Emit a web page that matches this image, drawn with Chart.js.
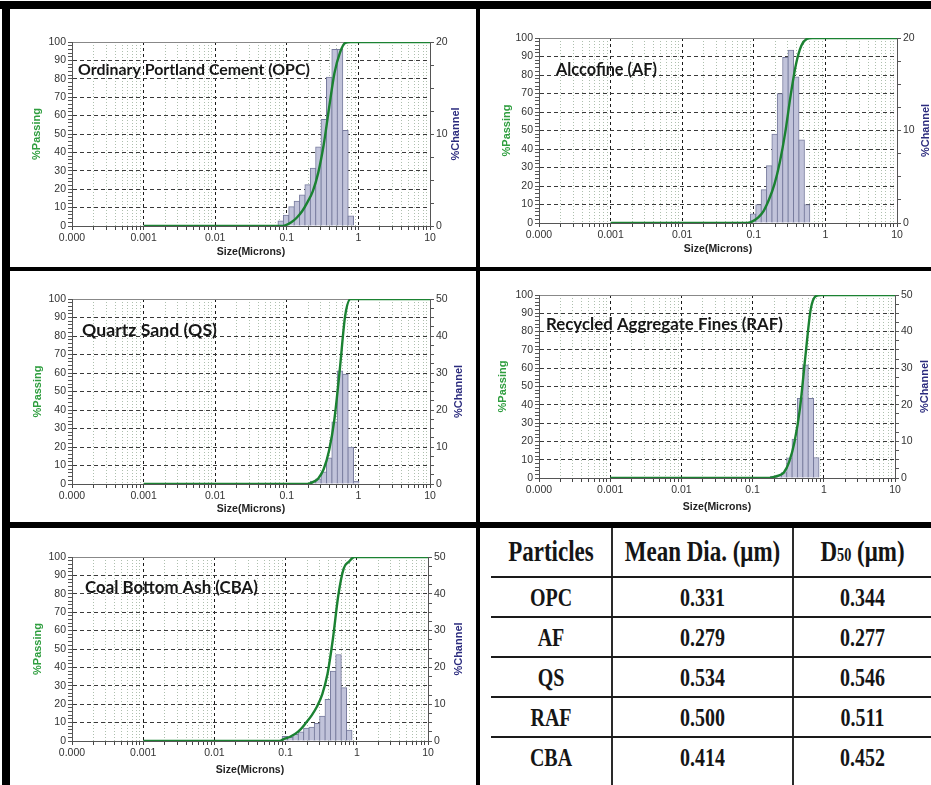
<!DOCTYPE html>
<html>
<head>
<meta charset="utf-8">
<script src="https://cdn.jsdelivr.net/npm/chart.js"></script>
<style>
html,body{margin:0;padding:0;background:#fff;}
body{width:931px;height:785px;position:relative;overflow:hidden;}
.rule{position:absolute;background:#000;}
#tbl{position:absolute;left:491px;top:528px;width:440px;height:257px;overflow:hidden;}
#tbl table{border-collapse:collapse;table-layout:fixed;width:440px;font-family:"Liberation Serif","Times New Roman",serif;font-weight:bold;color:#151515;}
#tbl th,#tbl td{text-align:center;padding:0;border-bottom:2px solid #1a1a1a;overflow:hidden;}
#tbl th+th,#tbl td+td{border-left:2px solid #2a2a2a;}
#tbl th{height:48px;font-size:23px;}
#tbl td{height:38px;font-size:20px;}
#tbl tr:last-child td{border-bottom:none;height:47px;vertical-align:top;padding-top:8px;}
.s{display:inline-block;transform:scaleY(1.3);}
.sub{font-size:0.62em;}
</style>
</head>
<body>
<div class="rule" style="left:0;top:1px;width:931px;height:8px"></div>
<div class="rule" style="left:2px;top:1px;width:8px;height:784px"></div>
<div class="rule" style="left:476px;top:1px;width:4px;height:784px"></div>
<div class="rule" style="left:2px;top:267px;width:929px;height:4px"></div>
<div class="rule" style="left:2px;top:522px;width:929px;height:6px"></div>
<div id="tbl"><table id="t"></table></div>
<script>
// ---------------- DATA ----------------
const xTickValues = [0.0001, 0.001, 0.01, 0.1, 1, 10];
const xTickLabels = ['0.000', '0.001', '0.01', '0.1', '1', '10'];
const passingTicks = [0, 10, 20, 30, 40, 50, 60, 70, 80, 90, 100];
const channelTicks20 = [0, 10, 20];
const channelTicks50 = [0, 10, 20, 30, 40, 50];

// channel (bin) centre sizes, microns
const channelSizes = [0.0750, 0.0892, 0.1061, 0.1261, 0.1499, 0.1783, 0.2120, 0.2521, 0.2999, 0.3566, 0.4241, 0.5044, 0.5998, 0.7132, 0.8482];
// %Channel values
const opcChannel = [0.55, 1.2, 2.1, 2.7, 3.4, 4.5, 6.3, 8.6, 11.6, 16.2, 19.2, 19.2, 10.4, 1.1, null];
const afChannel  = [null, 1.0, 2.0, 3.6, 6.2, 9.6, 14.0, 17.9, 18.7, 15.8, 9.0, 2.0, null, null, null];
const qsChannel  = [null, null, null, null, null, null, 0.8, 1.4, 3.3, 7.1, 16.8, 30.6, 29.7, 10.0, 0.8];
const rafChannel = [null, null, null, null, null, 0.5, 0.8, 1.5, 5.5, 10.6, 21.8, 30.9, 21.8, 5.6, null];
const cbaChannel = [null, 1.3, 1.0, 1.8, 2.5, 3.5, 3.8, 4.8, 6.8, 11.3, 19.0, 23.5, 14.5, 3.0, null];

// cumulative %Passing at channel edge sizes
const edgeSizes  = [0.001, 0.0688, 0.0818, 0.0973, 0.1156, 0.1375, 0.1635, 0.1944, 0.2312, 0.2750, 0.3270, 0.3889, 0.4625, 0.5500, 0.6540, 0.7778, 0.9250, 10];
const opcPassing = [0, 0, 0, 0.5, 2, 4.5, 8, 13, 19, 29, 44, 64, 83, 94, 99.5, 100, 100, 100];
const afPassing  = [0, 0, 0, 1, 3, 6.6, 12.8, 21, 33, 49, 69, 86, 96, 99.5, 100, 100, 100, 100];
const qsPassing  = [0, 0, 0, 0, 0, 0, 0, 0, 1, 3, 8, 18, 35, 62, 91, 100, 100, 100];
const rafPassing = [0, 0, 0, 0, 0, 0, 0, 0.5, 1.3, 3, 9, 20, 38, 66, 92, 99.5, 100, 100];
const cbaPassing = [0, 0, 0, 1.3, 2.3, 4, 6.5, 10, 13.8, 18.6, 25.4, 36.7, 55.7, 79.2, 93.7, 97.5, 100, 100];

const materialNames = ['Ordinary Portland Cement (OPC)', 'Alccofine (AF)', 'Quartz Sand (QS)', 'Recycled Aggregate Fines (RAF)', 'Coal Bottom Ash (CBA)'];

// table
const tableHeaders = ['Particles', 'Mean Dia. (μm)', 'D50 (μm)'];
const particles = ['OPC', 'AF', 'QS', 'RAF', 'CBA'];
const meanDia = ['0.331', '0.279', '0.534', '0.500', '0.414'];
const d50 = ['0.344', '0.277', '0.546', '0.511', '0.452'];

// ---------------- LAYOUT (page pixel boxes) ----------------
const panels = [
  {box:[10,9,476,267],   plot:[72,42,430,226],  passT:37,  chT:456, xTitle:26, name:[78,75,232],  ch:opcChannel, pass:opcPassing, chTicks:channelTicks20},
  {box:[480,9,931,267],  plot:[539,38,897,223], passT:507, chT:926, xTitle:26, name:[556,75,101], ch:afChannel,  pass:afPassing,  chTicks:channelTicks20},
  {box:[10,271,476,522], plot:[72,299,430,484], passT:38,  chT:459, xTitle:25, name:[82,336,135], ch:qsChannel,  pass:qsPassing,  chTicks:channelTicks50},
  {box:[480,271,931,522],plot:[539,295,895,478],passT:503, chT:925, xTitle:29, name:[546,330,237],ch:rafChannel, pass:rafPassing, chTicks:channelTicks50},
  {box:[10,528,476,785], plot:[72,557,428,741], passT:38,  chT:459, xTitle:29, name:[85,593,173], ch:cbaChannel, pass:cbaPassing, chTicks:channelTicks50}
];

Chart.defaults.font.family = '"Liberation Sans", Arial, sans-serif';
Chart.defaults.animation = false;

const allXTicks = [];
for (let e = -4; e <= 0; e++) for (let k = 1; k <= 9; k++) allXTicks.push(+(k * Math.pow(10, e)).toPrecision(6));
allXTicks.push(10);
const majorIdx = v => xTickValues.findIndex(t => Math.abs(Math.log10(t) - Math.log10(v)) < 1e-6);
const minorXTicks = allXTicks.filter(v => majorIdx(v) < 0);
const leftAll = []; for (let v = 0; v <= 100; v += 2) leftAll.push(v);
const decades = Math.log10(xTickValues[xTickValues.length - 1] / xTickValues[0]);
const binStep = Math.log10(channelSizes[1] / channelSizes[0]);

const panelText = {
  id: 'panelText',
  afterDatasetsDraw(chart, args, o) {
    const ctx = chart.ctx;
    ctx.save();
    ctx.font = 'bold 16px Lato, "Open Sans", sans-serif';
    const w = ctx.measureText(o.text).width;
    const size = 16 * o.width / w;
    ctx.font = 'bold ' + size.toFixed(2) + 'px Lato, "Open Sans", sans-serif';
    ctx.fillStyle = '#161616';
    ctx.textAlign = 'left';
    ctx.textBaseline = 'alphabetic';
    ctx.fillText(o.text, o.x, o.y);
    ctx.restore();
  },
  afterDraw(chart, args, o) {
    const ctx = chart.ctx;
    const ca = chart.chartArea;
    ctx.save();
    ctx.font = 'bold 11px "Liberation Sans", Arial, sans-serif';
    ctx.fillStyle = '#2b2b7e';
    ctx.translate(o.chX, (ca.top + ca.bottom) / 2);
    ctx.rotate(-Math.PI / 2);
    ctx.textAlign = 'center';
    ctx.textBaseline = 'middle';
    ctx.fillText('%Channel', 0, 0);
    ctx.restore();
  }
};

panels.forEach((p, idx) => {
  const [bl, bt, br, bb] = p.box;
  const [pl, pt, pr, pb] = p.plot;
  const W = br - bl, H = bb - bt;
  const cv = document.createElement('canvas');
  cv.width = W; cv.height = H;
  cv.style.cssText = `position:absolute;left:${bl}px;top:${bt}px;width:${W}px;height:${H}px`;
  document.body.appendChild(cv);

  const titleHalf = 6.6;
  const padL = p.passT - titleHalf - bl;
  const yW = pl - bl - padL;
  const y2W = br - pr;
  const xH = p.xTitle + 8.3;
  const padB = bb - pb - xH;
  const padT = pt - bt;
  const chMax = p.chTicks[p.chTicks.length - 1];
  const rightAll = []; for (let v = 0; v <= chMax + 1e-9; v += 2.5) rightAll.push(v);
  const barW = (pr - pl) / decades * binStep + 0.4;

  new Chart(cv, {
    type: 'line',
    data: {
      datasets: [
        {
          type: 'line',
          data: edgeSizes.map((s, i) => ({x: s, y: p.pass[i]})),
          xAxisID: 'x', yAxisID: 'y',
          borderColor: '#1b8232', borderWidth: 2.4,
          pointRadius: 0, cubicInterpolationMode: 'monotone', fill: false, order: 1
        },
        {
          type: 'bar',
          data: channelSizes.map((s, i) => ({x: s, y: p.ch[i]})).filter(d => d.y != null),
          xAxisID: 'xt', yAxisID: 'y2',
          backgroundColor: '#c1c3da', borderColor: '#787c9e', borderWidth: 1,
          barThickness: barW, barPercentage: 1, categoryPercentage: 1, order: 2
        }
      ]
    },
    options: {
      responsive: false, devicePixelRatio: 1, animation: false,
      layout: {padding: {left: padL, right: 0, top: padT, bottom: padB}},
      plugins: {
        legend: {display: false}, tooltip: {enabled: false},
        panelText: {text: materialNames[idx], x: p.name[0] - bl, y: p.name[1] - bt, width: p.name[2], chX: p.chT - bl}
      },
      scales: {
        x: {
          type: 'logarithmic', position: 'bottom', min: 1e-4, max: 10,
          afterBuildTicks: s => { s.ticks = allXTicks.map(v => ({value: v})); },
          afterFit: s => { s.height = xH; },
          ticks: {autoSkip: false, maxRotation: 0, minRotation: 0, padding: 2, color: '#333', font: {size: 10.5},
                  callback: v => { const j = majorIdx(v); return j >= 0 ? xTickLabels[j] : ''; }},
          grid: {color: c => (c.tick && majorIdx(c.tick.value) >= 0) ? '#1a1a1a' : 'rgba(0,0,0,0)',
                 tickColor: '#444', tickLength: 4, tickBorderDash: [], lineWidth: 1},
          border: {color: '#555', width: 1, dash: [3, 3]},
          title: {display: true, text: 'Size(Microns)', color: '#222', font: {size: 10.5, weight: 'bold'}, padding: {top: 0, bottom: 2}}
        },
        xm: {
          type: 'logarithmic', position: 'bottom', min: 1e-4, max: 10,
          afterBuildTicks: s => { s.ticks = minorXTicks.map(v => ({value: v})); },
          afterFit: s => { s.height = 0; },
          ticks: {display: false},
          grid: {color: 'rgba(120,150,120,0.6)', drawTicks: false, lineWidth: 1},
          border: {display: false, dash: [1, 2]}
        },
        xt: {
          type: 'logarithmic', position: 'top', min: 1e-4, max: 10,
          afterBuildTicks: s => { s.ticks = xTickValues.map(v => ({value: v})); },
          afterFit: s => { s.height = 0; },
          ticks: {display: false},
          grid: {display: false, drawTicks: false},
          border: {display: true, color: '#888', width: 1}
        },
        y: {
          type: 'linear', position: 'left', min: 0, max: 100,
          afterBuildTicks: s => { s.ticks = leftAll.map(v => ({value: v})); },
          afterFit: s => { s.width = yW; },
          ticks: {autoSkip: false, padding: 2, color: '#333', font: {size: 10.5},
                  callback: v => passingTicks.includes(v) ? String(v) : ''},
          grid: {color: c => (c.tick && passingTicks.includes(c.tick.value)) ? '#3a3a3a' : 'rgba(0,0,0,0)',
                 tickColor: '#555', tickLength: 4, tickBorderDash: []},
          border: {color: '#555', dash: [4, 3]},
          title: {display: true, text: '%Passing', color: '#2f9e3f', font: {size: 11, weight: 'bold'}, padding: {top: 0, bottom: 0}}
        },
        y2: {
          type: 'linear', position: 'right', min: 0, max: chMax,
          afterBuildTicks: s => { s.ticks = rightAll.map(v => ({value: v})); },
          afterFit: s => { s.width = y2W; },
          ticks: {autoSkip: false, padding: 2, color: '#333', font: {size: 10.5},
                  callback: v => p.chTicks.includes(v) ? String(v) : ''},
          grid: {drawOnChartArea: false, tickColor: '#555', tickLength: 4, tickBorderDash: []},
          border: {color: '#555'}
        }
      }
    },
    plugins: [panelText]
  });
});

// ---------------- TABLE ----------------
const t = document.getElementById('t');
const hdr = tableHeaders.map(h => {
  const m = h.match(/^D(50)(.*)$/);
  const inner = m ? 'D<span class="sub">' + m[1] + '</span>' + m[2] : h;
  return '<th><span class="s">' + inner + '</span></th>';
}).join('');
let rows = '<colgroup><col style="width:121px"><col style="width:181px"><col style="width:138px"></colgroup><tr>' + hdr + '</tr>';
particles.forEach((name, i) => {
  rows += '<tr><td><span class="s">' + name + '</span></td><td><span class="s">' + meanDia[i] +
          '</span></td><td><span class="s">' + d50[i] + '</span></td></tr>';
});
t.innerHTML = rows;
</script>
</body>
</html>
